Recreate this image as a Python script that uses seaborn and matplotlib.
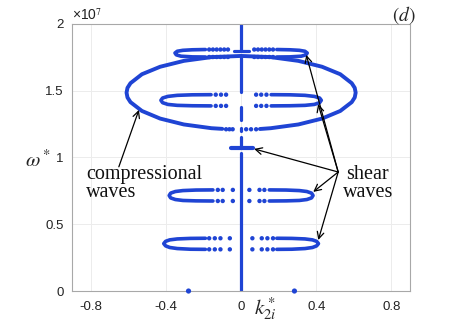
import matplotlib
matplotlib.use('Agg')
import matplotlib.pyplot as plt
import seaborn as sns
import pandas as pd

# omega* in units of 1e7, k2i* dimensionless
# compressional wave branch (closed loop, bottom centre drawn as dots)
comp_k = [0.10, 0.158, 0.305, 0.431, 0.528, 0.589, 0.605, 0.61, 0.605, 0.589, 0.528, 0.431, 0.305, 0.158, 0.0,
          -0.158, -0.305, -0.431, -0.528, -0.589, -0.605, -0.61, -0.605, -0.589, -0.528, -0.431, -0.305, -0.158, -0.10]
comp_w = [1.213, 1.219, 1.247, 1.291, 1.348, 1.414, 1.449, 1.485, 1.521, 1.556, 1.623, 1.679, 1.723, 1.751, 1.76,
          1.751, 1.723, 1.679, 1.623, 1.556, 1.521, 1.485, 1.449, 1.414, 1.348, 1.291, 1.247, 1.219, 1.214]
comp_dots_k = [-0.08, -0.062, -0.045, 0.027, 0.053, 0.08]
comp_dots_w = [1.211, 1.211, 1.211, 1.211, 1.211, 1.211]

# shear wave lobes (right half, mirrored for the left)
lobe_a_k = [0.19, 0.26, 0.31, 0.34, 0.352, 0.345, 0.32, 0.26, 0.19]
lobe_a_w = [1.808, 1.806, 1.802, 1.795, 1.782, 1.768, 1.758, 1.753, 1.752]
lobe_b_k = [0.16, 0.26, 0.34, 0.39, 0.418, 0.427, 0.418, 0.39, 0.34, 0.26, 0.16]
lobe_b_w = [1.470, 1.469, 1.465, 1.457, 1.445, 1.428, 1.410, 1.397, 1.390, 1.387, 1.386]
lobe_c_k = [0.15, 0.24, 0.31, 0.35, 0.375, 0.383, 0.375, 0.35, 0.31, 0.24, 0.15]
lobe_c_w = [0.757, 0.756, 0.752, 0.745, 0.733, 0.715, 0.697, 0.685, 0.678, 0.675, 0.674]
lobe_d_k = [0.19, 0.27, 0.34, 0.38, 0.402, 0.412, 0.402, 0.38, 0.34, 0.27, 0.19]
lobe_d_w = [0.395, 0.394, 0.390, 0.383, 0.372, 0.355, 0.338, 0.326, 0.318, 0.313, 0.312]

# sparse points of each lobe (k values, same for upper/lower rows)
dots_a_k = [0.07, 0.09, 0.11, 0.13, 0.15, 0.17]
dots_a_w = [1.808, 1.752]
dots_b_k = [0.08, 0.107, 0.135]
dots_b_w = [1.470, 1.386]
dots_c_k = [0.044, 0.098, 0.124]
dots_c_w = [0.757, 0.674]
dots_d_k = [0.06, 0.11, 0.14, 0.17]
dots_d_w = [0.395, 0.312]

# k = 0 branch (segments of omega)
axis_segments = [(0.0, 1.034), (1.071, 1.153), (1.20, 1.22), (1.281, 1.378), (1.49, 1.753), (1.805, 2.0)]
short_k = [-0.053, 0.062]
short_w = [1.07, 1.07]
top_k = [-0.04, 0.04]
top_w = [1.795, 1.795]
zero_k = [-0.28, 0.284]
zero_w = [0.0, 0.0]

sns.set_theme(style='white')
plt.rcParams['font.family'] = ['Liberation Sans', 'DejaVu Sans']
plt.rcParams['mathtext.fontset'] = 'stix'

blue = '#1f44d4'
fig = plt.figure(figsize=(4.65, 3.27), dpi=100)
ax = fig.add_axes([0.155, 0.110, 0.727, 0.817])

sns.lineplot(x=comp_k, y=comp_w, sort=False, estimator=None, color=blue, lw=2.8, ax=ax)
sns.scatterplot(x=comp_dots_k, y=comp_dots_w, color=blue, s=10, edgecolor='none', ax=ax)

lobes = [(lobe_a_k, lobe_a_w, dots_a_k, dots_a_w), (lobe_b_k, lobe_b_w, dots_b_k, dots_b_w),
         (lobe_c_k, lobe_c_w, dots_c_k, dots_c_w), (lobe_d_k, lobe_d_w, dots_d_k, dots_d_w)]
for lk, lw_, dk, dw in lobes:
    for sgn in (1, -1):
        sns.lineplot(x=[sgn * v for v in lk], y=lw_, sort=False, estimator=None,
                     color=blue, lw=2.6, ax=ax)
        pts = pd.DataFrame([(sgn * k, w) for k in dk for w in dw], columns=['k', 'w'])
        sns.scatterplot(data=pts, x='k', y='w', color=blue, s=10, edgecolor='none', ax=ax)

for a, b in axis_segments:
    sns.lineplot(x=[0, 0], y=[a, b], sort=False, estimator=None, color=blue, lw=2.3, ax=ax)
sns.lineplot(x=short_k, y=short_w, sort=False, estimator=None, color=blue, lw=3, ax=ax)
sns.lineplot(x=top_k, y=top_w, sort=False, estimator=None, color=blue, lw=2.3, ax=ax)
sns.scatterplot(x=zero_k, y=zero_w, color=blue, s=14, edgecolor='none', ax=ax, clip_on=False, zorder=5)

ax.set_xlabel('')
ax.set_ylabel('')
ax.set_xlim(-0.9, 0.9)
ax.set_ylim(0, 2)
ax.set_xticks([-0.8, -0.4, 0, 0.4, 0.8])
ax.set_xticklabels(['-0.8', '-0.4', '0', '0.4', '0.8'])
ax.set_yticks([0, 0.5, 1, 1.5, 2])
ax.set_yticklabels(['0', '0.5', '1', '1.5', '2'])
ax.tick_params(direction='in', length=3, color='#a0a0a0', labelsize=9.5, labelcolor='#222222')
ax.tick_params(axis='x', pad=7)
ax.tick_params(axis='y', pad=6)
ax.grid(True, color='#ececec', lw=0.7)
for sp in ax.spines.values():
    sp.set_color('#a8a8a8')
    sp.set_linewidth(0.8)

# labels
fig.text(0.155, 0.955, '\u00d710$^{7}$', fontsize=10, color='#222222', ha='left', va='center')
fig.text(0.082, 0.51, r'$\omega^*$', fontsize=15, ha='center', va='center')
fig.text(0.57, 0.055, r'$k^*_{2i}$', fontsize=15, ha='center', va='center')
fig.text(0.868, 0.955, r'$(d)$', fontsize=14, ha='center', va='center')

serif = ['Liberation Serif', 'DejaVu Serif']
ax.text(-0.825, 0.945, 'compressional\nwaves', family=serif, fontsize=14.5, linespacing=0.92,
        ha='left', va='top', color='#111111')
ax.text(0.675, 0.945, 'shear\nwaves', family=serif, fontsize=14.5, linespacing=0.92,
        ha='center', va='top', multialignment='center', color='#111111')

arrow = dict(arrowstyle='->', color='black', lw=0.9, shrinkA=0, shrinkB=0)
ax.annotate('', xy=(-0.544, 1.356), xytext=(-0.651, 0.93), arrowprops=arrow)
origin = (0.517, 0.891)
for head in [(0.347, 1.768), (0.41, 1.40), (0.069, 1.064), (0.384, 0.742), (0.411, 0.382)]:
    ax.annotate('', xy=head, xytext=origin, arrowprops=arrow)

fig.savefig('out.png', dpi=100)
